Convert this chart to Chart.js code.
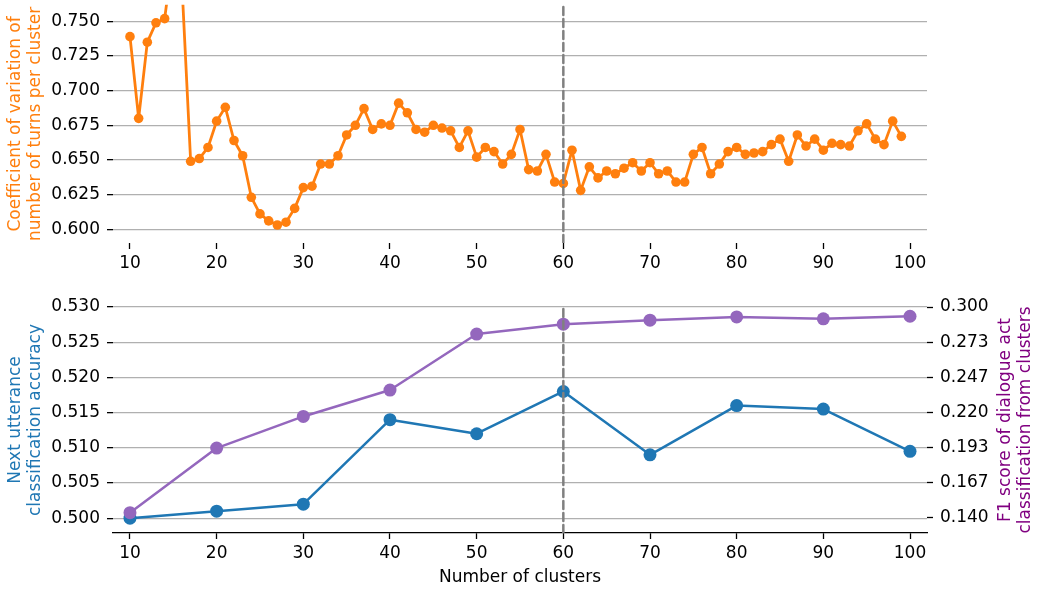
<!DOCTYPE html>
<html>
<head>
<meta charset="utf-8">
<script src="https://cdn.jsdelivr.net/npm/chart.js@4"></script>
<style>
  html, body { margin: 0; padding: 0; background: #fff; }
  #wrap { position: relative; width: 1039px; height: 590px; }
  .box { position: absolute; left: 0; width: 1039px; }
</style>
</head>
<body>
<div id="wrap">
  <div class="box" style="top:0;height:290px"><canvas id="topChart"></canvas></div>
  <div class="box" style="top:290px;height:300px"><canvas id="bottomChart"></canvas></div>
</div>
<script>
// top panel: coefficient of variation, one value per cluster count
const cvClusters = [10, 11, 12, 13, 14, 15, 16, 17, 18, 19,
                    20, 21, 22, 23, 24, 25, 26, 27, 28, 29,
                    30, 31, 32, 33, 34, 35, 36, 37, 38, 39,
                    40, 41, 42, 43, 44, 45, 46, 47, 48, 49,
                    50, 51, 52, 53, 54, 55, 56, 57, 58, 59,
                    60, 61, 62, 63, 64, 65, 66, 67, 68, 69,
                    70, 71, 72, 73, 74, 75, 76, 77, 78, 79,
                    80, 81, 82, 83, 84, 85, 86, 87, 88, 89,
                    90, 91, 92, 93, 94, 95, 96, 97, 98, 99];
const cvValues = [0.739, 0.680, 0.735, 0.749, 0.752, 0.800, 0.776, 0.649, 0.651, 0.659,
                  0.678, 0.688, 0.664, 0.653, 0.623, 0.611, 0.606, 0.603, 0.605, 0.615,
                  0.630, 0.631, 0.647, 0.647, 0.653, 0.668, 0.675, 0.687, 0.672, 0.676,
                  0.675, 0.691, 0.684, 0.672, 0.670, 0.675, 0.673, 0.671, 0.659, 0.671,
                  0.652, 0.659, 0.656, 0.647, 0.654, 0.672, 0.643, 0.642, 0.654, 0.634,
                  0.633, 0.657, 0.628, 0.645, 0.637, 0.642, 0.640, 0.644, 0.648, 0.642,
                  0.648, 0.640, 0.642, 0.634, 0.634, 0.654, 0.659, 0.640, 0.647, 0.656,
                  0.659, 0.654, 0.655, 0.656, 0.661, 0.665, 0.649, 0.668, 0.660, 0.665,
                  0.657, 0.662, 0.661, 0.660, 0.671, 0.676, 0.665, 0.661, 0.678, 0.667];

// bottom panel: every 10 clusters
const evalClusters = [10, 20, 30, 40, 50, 60, 70, 80, 90, 100];
const nextUttAcc = [0.5000, 0.5010, 0.5020, 0.5140, 0.5120, 0.5180, 0.5090, 0.5160, 0.5155, 0.5095];
const dialogActF1 = [0.144, 0.193, 0.217, 0.237, 0.2795, 0.287, 0.290, 0.2925, 0.291, 0.293];

// ticks
const xTicks = [10, 20, 30, 40, 50, 60, 70, 80, 90, 100];
const cvTicks = [0.600, 0.625, 0.650, 0.675, 0.700, 0.725, 0.750];
const accTicks = [0.500, 0.505, 0.510, 0.515, 0.520, 0.525, 0.530];
const f1Ticks = [0.140, 0.16667, 0.19333, 0.220, 0.24667, 0.27333, 0.300];

const chosenClusters = 60;

const FONT = { family: "'DejaVu Sans', sans-serif", size: 17 };
const ORANGE = '#ff7f0e', BLUE = '#1f77b4', PURPLE = '#9467bd';
const GRID = '#b0b0b0';

const setTicks = arr => s => { s.ticks = arr.map(v => ({ value: v })); };
const noPad = s => { s.paddingTop = 0; s.paddingBottom = 0; s.paddingLeft = 0; s.paddingRight = 0; };

function xAxis(height, withLine, title) {
  return {
    type: 'linear', min: 8.04, max: 101.96,
    afterBuildTicks: setTicks(xTicks),
    afterFit: s => { s.height = height; noPad(s); },
    border: { display: withLine, color: '#000', width: 1.3 },
    grid: { display: true, drawOnChartArea: false, drawTicks: true, tickLength: 6, tickColor: '#000', tickWidth: 1.3 },
    ticks: { color: '#000', font: FONT, padding: 4, maxRotation: 0, autoSkip: false },
    title: title
  };
}

function vline(lo, hi, axisId) {
  return {
    data: [{ x: chosenClusters, y: lo }, { x: chosenClusters, y: hi }],
    yAxisID: axisId,
    borderColor: '#808080', borderWidth: 2.5, borderDash: [8, 4],
    pointRadius: 0, order: 0
  };
}

const baseOpts = {
  responsive: true, maintainAspectRatio: false, animation: false, devicePixelRatio: 1,
  plugins: { legend: { display: false }, tooltip: { enabled: false } },
  elements: { line: { tension: 0, borderJoinStyle: 'round', borderCapStyle: 'round' } }
};

new Chart(document.getElementById('topChart'), {
  type: 'line',
  data: {
    datasets: [
      vline(0.590, 0.762, 'y'),
      {
        data: cvClusters.map((c, i) => ({ x: c, y: cvValues[i] })),
        borderColor: ORANGE, backgroundColor: ORANGE, borderWidth: 2.8,
        pointRadius: 4.8, pointBorderWidth: 0, pointBackgroundColor: ORANGE, order: 1
      }
    ]
  },
  options: Object.assign({}, baseOpts, {
    layout: { padding: { top: 0, right: 112, left: 0, bottom: 0 } },
    scales: {
      x: xAxis(47, false, { display: false }),
      y: {
        type: 'linear', min: 0.590, max: 0.762,
        afterBuildTicks: setTicks(cvTicks),
        afterFit: s => { s.width = 113; noPad(s); },
        border: { display: false },
        grid: { color: GRID, lineWidth: 1.3, tickLength: 6, tickColor: '#000', tickWidth: 1.3 },
        ticks: { color: '#000', font: FONT, padding: 7, callback: v => v.toFixed(3) },
        title: {
          display: true, color: ORANGE, font: FONT, padding: { top: 5, bottom: 0 },
          text: ['Coefficient of variation of', 'number of turns per cluster']
        }
      }
    }
  })
});

// right-hand title reads bottom to top like the left one
const rightTitle = {
  id: 'rightTitle',
  afterDraw(chart) {
    const { ctx, chartArea } = chart;
    const s = chart.scales.y2;
    const cy = (chartArea.top + chartArea.bottom) / 2;
    const lines = ['F1 score of dialogue act', 'classification from clusters'];
    ctx.save();
    ctx.fillStyle = '#800080';
    ctx.font = FONT.size + 'px ' + FONT.family;
    ctx.textAlign = 'center';
    ctx.textBaseline = 'middle';
    lines.forEach((t, i) => {
      ctx.save();
      ctx.translate(s.right - 33 + i * 20, cy);
      ctx.rotate(-Math.PI / 2);
      ctx.fillText(t, 0, 0);
      ctx.restore();
    });
    ctx.restore();
  }
};

new Chart(document.getElementById('bottomChart'), {
  type: 'line',
  data: {
    datasets: [
      vline(0.4979, 0.530, 'y'),
      {
        data: evalClusters.map((c, i) => ({ x: c, y: dialogActF1[i] })),
        yAxisID: 'y2',
        borderColor: PURPLE, backgroundColor: PURPLE, borderWidth: 2.5,
        pointRadius: 6.5, pointBorderWidth: 0, pointBackgroundColor: PURPLE, order: 1
      },
      {
        data: evalClusters.map((c, i) => ({ x: c, y: nextUttAcc[i] })),
        yAxisID: 'y',
        borderColor: BLUE, backgroundColor: BLUE, borderWidth: 2.5,
        pointRadius: 6.5, pointBorderWidth: 0, pointBackgroundColor: BLUE, order: 2
      }
    ]
  },
  options: Object.assign({}, baseOpts, {
    layout: { padding: { top: 17, right: 0, left: 0, bottom: 0 } },
    scales: {
      x: xAxis(57, true, {
        display: true, text: 'Number of clusters', color: '#000', font: FONT,
        padding: { top: 0, bottom: 2 }
      }),
      y: {
        type: 'linear', position: 'left', min: 0.4979, max: 0.530,
        afterBuildTicks: setTicks(accTicks),
        afterFit: s => { s.width = 113; noPad(s); },
        border: { display: false },
        grid: { color: GRID, lineWidth: 1.3, tickLength: 6, tickColor: '#000', tickWidth: 1.3 },
        ticks: { color: '#000', font: FONT, padding: 7, callback: v => v.toFixed(3) },
        title: {
          display: true, color: BLUE, font: FONT, padding: { top: 5, bottom: 0 },
          text: ['Next utterance', 'classification accuracy']
        }
      },
      y2: {
        type: 'linear', position: 'right', min: 0.1286, max: 0.300,
        afterBuildTicks: setTicks(f1Ticks),
        afterFit: s => { s.width = 112; noPad(s); },
        border: { display: false },
        grid: { drawOnChartArea: false, tickLength: 6, tickColor: '#000', tickWidth: 1.3 },
        ticks: { color: '#000', font: FONT, padding: 7, callback: v => v.toFixed(3) }
      }
    }
  }),
  plugins: [rightTitle]
});
</script>
</body>
</html>
